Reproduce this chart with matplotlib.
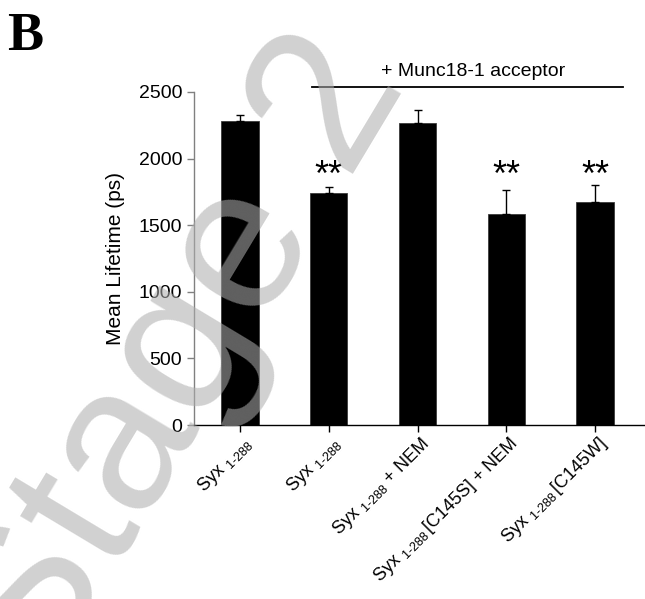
import matplotlib
matplotlib.use("Agg")
import matplotlib.pyplot as plt
import matplotlib.transforms as mtransforms
import numpy as np

plt.rcParams['font.family'] = ['Liberation Sans', 'DejaVu Sans']
plt.rcParams['mathtext.fontset'] = 'custom'
plt.rcParams['mathtext.rm'] = 'Liberation Sans'
plt.rcParams['mathtext.it'] = 'Liberation Sans:italic'
plt.rcParams['mathtext.bf'] = 'Liberation Sans:bold'

# Mean fluorescence lifetime per construct
categories = [
    r'Syx $_{1\text{-}288}$',
    r'Syx $_{1\text{-}288}$',
    r'Syx $_{1\text{-}288}$ + NEM',
    r'Syx $_{1\text{-}288}\,$[C145S] + NEM',
    r'Syx $_{1\text{-}288}\,$[C145W]',
]
mean_lifetime = [2285, 1740, 2265, 1585, 1675]
sem = [45, 48, 100, 180, 125]
significant = [False, True, False, True, True]
yticks = [0, 500, 1000, 1500, 2000, 2500]

W, H = 645, 599
fig = plt.figure(figsize=(W / 100, H / 100), dpi=100)
ax = fig.add_axes([194 / W, 1 - 425 / H, (W - 194) / W, 333 / H])

x = np.arange(len(categories))
ax.bar(x, mean_lifetime, width=0.42, color='black', edgecolor='#3a3a3a',
       linewidth=0.6, zorder=2)
ax.errorbar(x, mean_lifetime, yerr=[np.zeros(len(sem)), sem], fmt='none',
            ecolor='black', elinewidth=1.0, capsize=3.2, capthick=1.0, zorder=3)

for xi, sig in zip(x, significant):
    if sig:
        ax.text(xi, 1864, '**', ha='center', va='center', fontsize=26,
                color='black')

ax.set_xlim(-0.518, 4.563)
ax.set_ylim(0, 2500)
ax.set_yticks(yticks)
ax.set_yticklabels([str(v) for v in yticks], fontsize=14)
ax.set_xticks(x)
ax.set_xticklabels([''] * len(categories))

# Rotated category labels, anchored at their right end below each tick
label_trans = ax.get_xaxis_transform() + mtransforms.ScaledTranslation(
    0.09, -0.16, fig.dpi_scale_trans)
for xi, name in zip(x, categories):
    ax.text(xi, 0, name, transform=label_trans, fontsize=13, rotation=45,
            ha='right', va='center', rotation_mode='anchor')

for side in ('top', 'right'):
    ax.spines[side].set_visible(False)
ax.spines['left'].set_color('#808080')
ax.spines['left'].set_linewidth(1.0)
ax.spines['bottom'].set_color('black')
ax.spines['bottom'].set_linewidth(1.0)
ax.tick_params(axis='y', direction='out', length=5, width=1.0, color='#808080',
               pad=3.5)
ax.tick_params(axis='x', direction='out', length=5, width=1.0, color='black')

ax.set_ylabel('Mean Lifetime (ps)', fontsize=15)
ax.yaxis.set_label_coords(-0.153, 0.5)

# Bracket over the acceptor-containing conditions
ax.plot([0.81, 4.32], [2540, 2540], color='black', lw=1.3, clip_on=False)
ax.text(2.63, 2657, '+ Munc18-1 acceptor', ha='center', va='center',
        fontsize=14)

fig.text(7 / W, 1 - 50 / H, 'B', family='Liberation Serif', fontweight='bold',
         fontsize=39, ha='left', va='baseline')

fig.text(42 / W, 1 - 692 / H, 'Stage 2', family='Liberation Sans',
         fontsize=148, color=(0.68, 0.68, 0.68), alpha=0.56, rotation=59,
         rotation_mode='anchor', ha='left', va='baseline', zorder=10)

fig.savefig('out.png', dpi=100)
